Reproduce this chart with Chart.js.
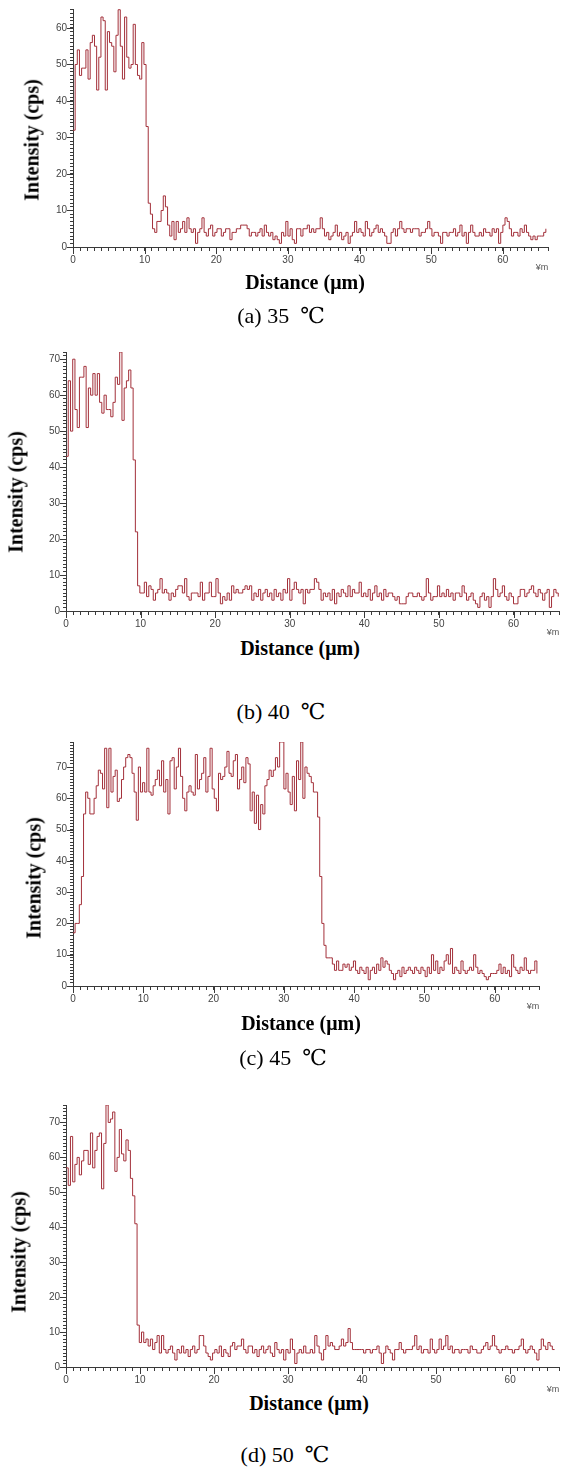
<!DOCTYPE html>
<html>
<head>
<meta charset="utf-8">
<script src="https://cdn.jsdelivr.net/npm/chart.js@4.4.1/dist/chart.umd.min.js"></script>
<style>
  html, body { margin: 0; padding: 0; background: #fff; }
  body { width: 562px; height: 1467px; position: relative; overflow: hidden; }
  canvas { position: absolute; left: 0; }
  .t { position: absolute; white-space: nowrap; transform: translate(-50%, -50%);
       font-family: 'Times New Roman', 'Liberation Serif', 'DejaVu Serif', 'Noto Sans CJK SC', serif; color: #000; }
  .xt { font-weight: bold; font-size: 20px; }
  .yt { font-weight: bold; font-size: 20px; transform: translate(-50%, -50%) rotate(-90deg); }
  .cap { font-size: 22px; }
  .unit { position: absolute; font-family: Arial, 'Liberation Sans', sans-serif; font-size: 9px; color: #555;
          transform: translate(-50%, -50%); }
</style>
</head>
<body>

<canvas id="c35" width="562" height="275" style="top:0px"></canvas>
<canvas id="c40" width="562" height="290" style="top:340px"></canvas>
<canvas id="c45" width="562" height="285" style="top:730px"></canvas>
<canvas id="c50" width="562" height="295" style="top:1095px"></canvas>

<div class="t yt" style="left:32px;top:140px">Intensity (cps)</div>
<div class="t xt" style="left:305px;top:282px">Distance (μm)</div>
<div class="unit" style="left:542px;top:267px">¥m</div>
<div class="t cap" style="left:281px;top:316px">(a) 35 &nbsp;℃</div>

<div class="t yt" style="left:16px;top:492px">Intensity (cps)</div>
<div class="t xt" style="left:300px;top:648px">Distance (μm)</div>
<div class="unit" style="left:553px;top:632px">¥m</div>
<div class="t cap" style="left:281px;top:712px">(b) 40 &nbsp;℃</div>

<div class="t yt" style="left:34px;top:878px">Intensity (cps)</div>
<div class="t xt" style="left:301px;top:1023px">Distance (μm)</div>
<div class="unit" style="left:533px;top:1006px">¥m</div>
<div class="t cap" style="left:283px;top:1058px">(c) 45 &nbsp;℃</div>

<div class="t yt" style="left:19px;top:1252px">Intensity (cps)</div>
<div class="t xt" style="left:309px;top:1403px">Distance (μm)</div>
<div class="unit" style="left:553px;top:1389px">¥m</div>
<div class="t cap" style="left:285px;top:1455px">(d) 50 &nbsp;℃</div>

<script>
// sampling distance of the line scan (um)
const stepUm = 0.3;

// tick labels
const xMajor = [0, 10, 20, 30, 40, 50, 60];
const yMajor = [0, 10, 20, 30, 40, 50, 60, 70];

// intensity (cps), one value per step
const intensity35 = [
  32,50,54,47,49,49,54,46,56,58, 55,43,52,63,62,43,59,56,55,48,
  58,65,55,46,63,52,49,50,61,50, 47,46,56,50,33,12,9,5,4,7,
  7,10,14,11,6,3,7,2,7,4, 5,7,4,8,5,4,5,1,4,5,
  8,4,3,5,6,3,4,5,5,3, 4,5,5,2,4,4,5,5,6,6,
  6,5,3,4,4,3,4,5,3,6, 4,3,4,2,3,2,1,4,3,7,
  3,5,2,1,5,5,3,5,5,6, 4,5,4,5,5,8,5,3,4,2,
  3,4,6,3,4,2,3,4,1,3, 4,7,4,5,4,3,7,5,3,4,
  5,6,4,5,4,3,1,1,4,5, 3,5,7,5,4,5,5,4,5,5,
  5,3,4,4,5,7,5,3,4,4, 3,1,4,4,3,4,4,5,3,4,
  6,3,4,1,4,6,4,3,3,4, 3,5,4,4,3,5,4,5,1,4,
  6,8,7,5,3,4,4,3,5,4, 6,4,3,2,3,2,3,3,3,4,5
];

const intensity40 = [
  43,64,50,70,56,51,65,65,68,51, 62,60,66,60,66,58,55,60,56,56,
  54,58,65,63,72,53,62,64,67,62, 42,22,7,5,5,8,4,7,6,3,
  5,6,9,5,6,5,3,5,4,6, 7,7,5,9,4,3,5,5,5,4,
  8,3,5,5,8,4,4,9,5,2, 4,3,5,3,7,5,6,5,5,6,
  7,6,7,3,5,4,6,3,5,6, 4,5,3,6,4,5,3,6,5,9,
  3,6,8,6,5,6,2,6,5,6, 6,9,8,6,3,5,4,5,3,6,
  2,5,4,6,5,4,7,4,6,5, 5,8,4,5,4,6,3,5,7,4,
  5,3,6,4,5,5,4,3,4,2, 2,2,4,5,5,4,4,5,4,3,
  4,9,5,3,4,4,7,4,5,4, 6,4,5,3,5,5,4,7,5,3,
  4,5,3,2,1,4,5,3,4,1, 4,9,6,4,5,7,4,3,5,4,
  2,2,4,6,6,4,5,6,7,5, 4,6,5,3,5,6,1,4,6,5,4
];

const intensity45 = [
  17,20,20,26,35,55,62,60,55,55, 60,64,69,68,63,76,57,76,62,67,
  69,59,60,66,70,73,74,73,68,62, 53,70,62,65,62,76,62,61,64,66,
  69,64,72,62,66,55,72,73,63,70, 76,67,60,56,62,64,62,61,74,63,
  66,68,73,62,67,76,63,60,56,68, 66,67,70,75,68,67,72,74,63,66,
  70,65,73,71,56,62,52,61,50,58, 55,64,66,69,67,69,73,70,78,78,
  63,68,62,58,67,56,72,66,78,60, 70,68,67,65,62,62,54,35,20,13,
  9,9,9,7,5,8,5,5,7,6, 7,5,6,8,5,4,6,5,4,6,
  2,5,6,4,7,5,9,6,8,7, 5,4,2,4,5,3,6,4,5,6,
  5,4,6,5,4,6,5,3,6,4, 10,5,8,4,6,5,8,10,7,12,
  4,6,5,4,8,5,4,5,6,5, 10,6,4,5,4,3,2,3,4,4,
  4,5,7,4,6,4,5,3,10,6, 5,4,6,5,9,5,4,5,5,8,4
];

const intensity50 = [
  57,52,66,53,58,60,55,59,62,62, 58,67,57,62,66,67,51,64,75,70,
  71,73,56,60,68,61,59,65,62,54, 49,41,12,7,10,7,8,6,8,5,
  7,9,4,9,5,4,5,6,4,2, 5,4,6,4,5,3,5,6,4,5,
  9,9,6,4,3,2,4,5,4,6, 3,5,4,3,6,7,5,6,6,8,
  5,4,6,6,4,5,3,5,6,4, 5,6,4,3,7,5,4,5,2,5,
  4,8,5,1,4,5,4,6,4,4, 5,4,9,6,4,2,5,9,6,7,
  6,5,5,6,8,6,7,11,7,5, 5,5,5,5,4,5,5,4,5,5,
  6,4,1,4,6,5,4,2,5,5, 7,5,4,5,5,5,6,9,5,6,
  4,5,5,4,8,5,4,5,8,5, 6,9,5,6,4,5,5,4,5,5,
  5,4,6,5,5,4,4,5,6,7, 5,6,9,6,5,4,5,5,6,5,
  5,4,5,5,6,8,5,4,5,6, 5,4,2,5,8,6,5,7,6,5,5
];

const toPoints = arr => arr.map((v, i) => ({ x: Math.round(i * stepUm * 100) / 100, y: v }));

const tickFont = { family: "Arial, 'Liberation Sans', sans-serif", size: 10 };
const axisColor = '#3a3a3a';

// longer tick marks at the labelled values
const majorTicks = {
  id: 'majorTicks',
  afterDraw(chart) {
    const { ctx, scales: { x, y } } = chart;
    ctx.save();
    ctx.strokeStyle = axisColor;
    ctx.lineWidth = 1;
    ctx.beginPath();
    xMajor.forEach(v => {
      if (v > x.max) return;
      const px = Math.round(x.getPixelForValue(v)) + 0.5;
      ctx.moveTo(px, y.bottom);
      ctx.lineTo(px, y.bottom + 7);
    });
    yMajor.forEach(v => {
      if (v > y.max) return;
      const py = Math.round(y.getPixelForValue(v)) + 0.5;
      ctx.moveTo(x.left - 6, py);
      ctx.lineTo(x.left, py);
    });
    ctx.stroke();
    ctx.restore();
  }
};

function makeChart(id, values, box, xMax, yMax) {
  const canvas = document.getElementById(id);
  const H = canvas.height;
  return new Chart(canvas, {
    type: 'line',
    data: {
      datasets: [{
        data: toPoints(values),
        borderColor: '#a3303a',
        borderWidth: 1,
        pointRadius: 0,
        stepped: true,
        fill: false
      }]
    },
    options: {
      responsive: false,
      animation: false,
      devicePixelRatio: 1,
      layout: { padding: { top: box.top, right: 562 - box.right, bottom: 0, left: 0 } },
      plugins: { legend: { display: false }, tooltip: { enabled: false } },
      scales: {
        x: {
          type: 'linear', min: 0, max: xMax,
          afterFit: s => { s.height = H - box.bottom; },
          border: { display: true, color: axisColor, width: 1 },
          grid: { drawOnChartArea: false, color: axisColor, tickLength: 4 },
          ticks: {
            stepSize: 1, autoSkip: false, maxRotation: 0, padding: 3,
            font: tickFont, color: '#444',
            callback: v => xMajor.includes(v) ? v : ''
          }
        },
        y: {
          type: 'linear', min: 0, max: yMax,
          afterFit: s => { s.width = box.left; },
          border: { display: true, color: axisColor, width: 1 },
          grid: { drawOnChartArea: false, color: axisColor, tickLength: 3 },
          ticks: {
            stepSize: 1, autoSkip: false, padding: 3,
            font: tickFont, color: '#444',
            callback: v => yMajor.includes(v) ? v : ''
          }
        }
      }
    },
    plugins: [majorTicks]
  });
}

// chart-area boxes in canvas coordinates
makeChart('c35', intensity35, { left: 73, right: 548, top: 7, bottom: 247 }, 66.3, 65.2);
makeChart('c40', intensity40, { left: 66, right: 562, top: 12, bottom: 271 }, 66.1, 72);
makeChart('c45', intensity45, { left: 73, right: 539, top: 12, bottom: 256 }, 66.3, 78);
makeChart('c50', intensity50, { left: 66, right: 562, top: 10, bottom: 272 }, 66.6, 75);
</script>
</body>
</html>
